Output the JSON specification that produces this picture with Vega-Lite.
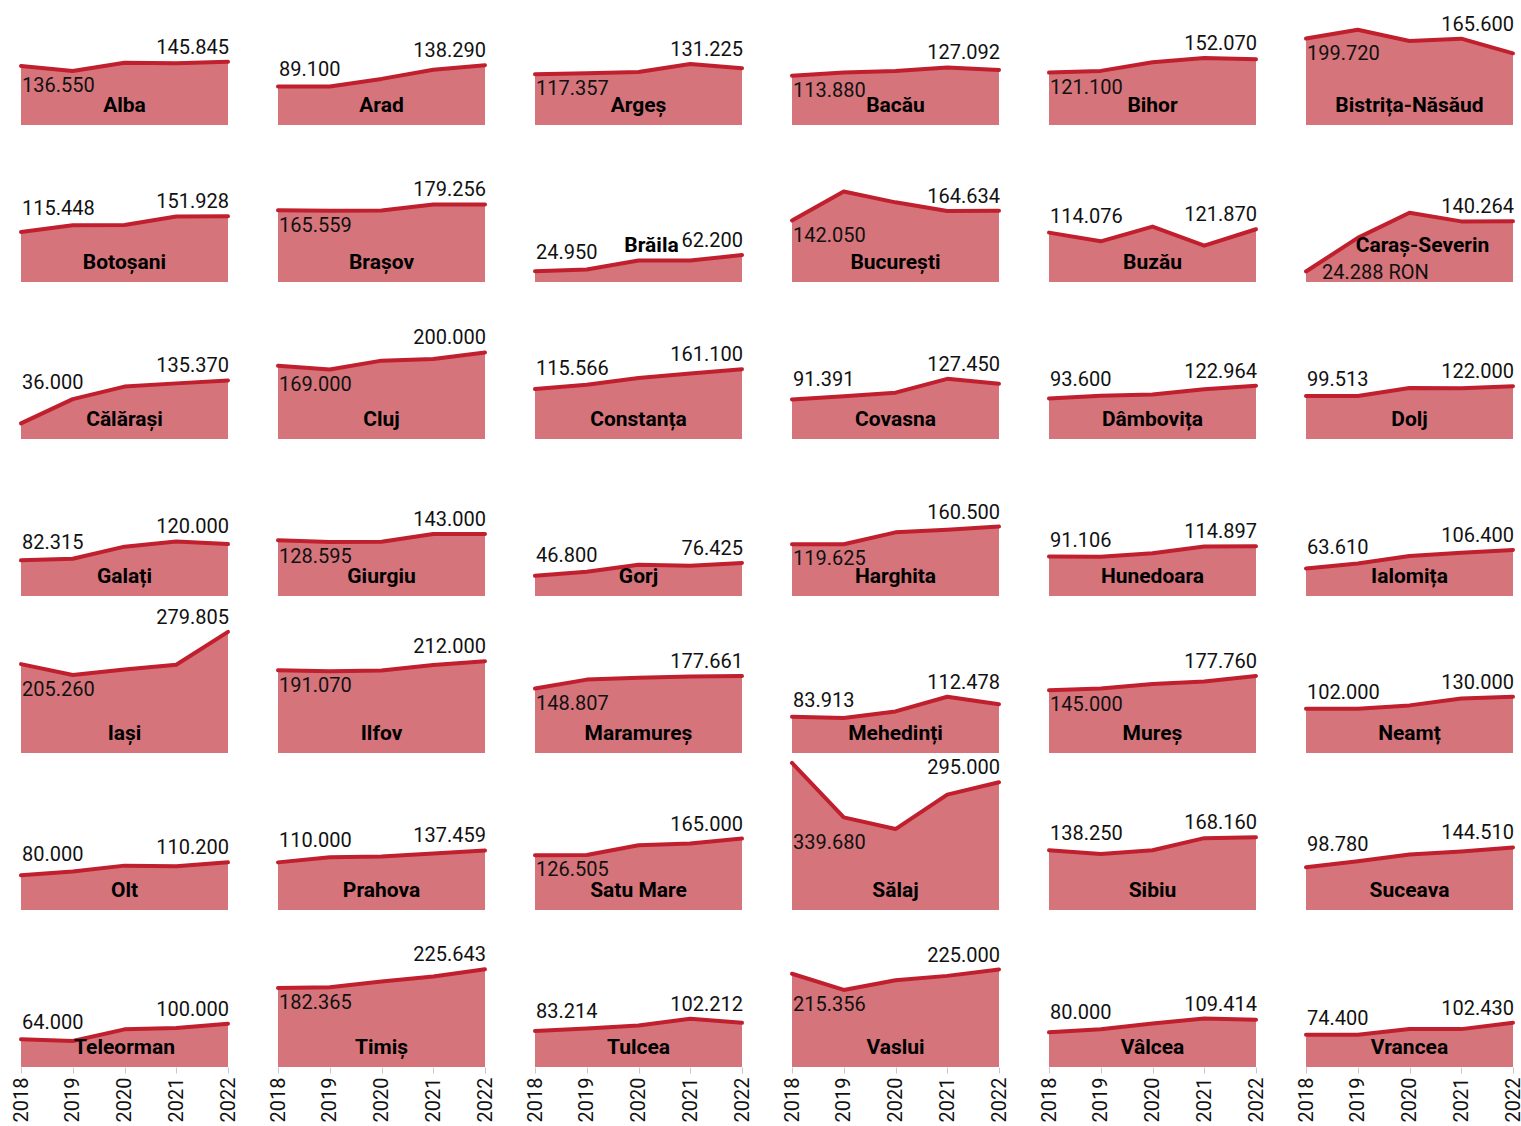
{
  "$schema": "https://vega.github.io/schema/vega-lite/v6.json",
  "padding": {"left": 11, "top": 14, "right": 0, "bottom": 0},
  "bounds": "flush",
  "data": {"values": [
    {"county":"Alba","year":2018,"value":136550},{"county":"Alba","year":2019,"value":124700},{"county":"Alba","year":2020,"value":144000},{"county":"Alba","year":2021,"value":142500},{"county":"Alba","year":2022,"value":145845},
    {"county":"Arad","year":2018,"value":89100},{"county":"Arad","year":2019,"value":89100},{"county":"Arad","year":2020,"value":106500},{"county":"Arad","year":2021,"value":127500},{"county":"Arad","year":2022,"value":138290},
    {"county":"Argeș","year":2018,"value":117357},{"county":"Argeș","year":2019,"value":119500},{"county":"Argeș","year":2020,"value":122500},{"county":"Argeș","year":2021,"value":141000},{"county":"Argeș","year":2022,"value":131225},
    {"county":"Bacău","year":2018,"value":113880},{"county":"Bacău","year":2019,"value":121000},{"county":"Bacău","year":2020,"value":125000},{"county":"Bacău","year":2021,"value":133000},{"county":"Bacău","year":2022,"value":127092},
    {"county":"Bihor","year":2018,"value":121100},{"county":"Bihor","year":2019,"value":125000},{"county":"Bihor","year":2020,"value":145000},{"county":"Bihor","year":2021,"value":154500},{"county":"Bihor","year":2022,"value":152070},
    {"county":"Bistrița-Năsăud","year":2018,"value":199720},{"county":"Bistrița-Năsăud","year":2019,"value":220000},{"county":"Bistrița-Năsăud","year":2020,"value":194000},{"county":"Bistrița-Năsăud","year":2021,"value":199500},{"county":"Bistrița-Năsăud","year":2022,"value":165600},
    {"county":"Botoșani","year":2018,"value":115448},{"county":"Botoșani","year":2019,"value":131000},{"county":"Botoșani","year":2020,"value":131500},{"county":"Botoșani","year":2021,"value":151500},{"county":"Botoșani","year":2022,"value":151928},
    {"county":"Brașov","year":2018,"value":165559},{"county":"Brașov","year":2019,"value":164500},{"county":"Brașov","year":2020,"value":165000},{"county":"Brașov","year":2021,"value":179000},{"county":"Brașov","year":2022,"value":179256},
    {"county":"Brăila","year":2018,"value":24950},{"county":"Brăila","year":2019,"value":29000},{"county":"Brăila","year":2020,"value":49500},{"county":"Brăila","year":2021,"value":49500},{"county":"Brăila","year":2022,"value":62200},
    {"county":"București","year":2018,"value":142050},{"county":"București","year":2019,"value":209000},{"county":"București","year":2020,"value":184000},{"county":"București","year":2021,"value":164000},{"county":"București","year":2022,"value":164634},
    {"county":"Buzău","year":2018,"value":114076},{"county":"Buzău","year":2019,"value":94000},{"county":"Buzău","year":2020,"value":128000},{"county":"Buzău","year":2021,"value":84000},{"county":"Buzău","year":2022,"value":121870},
    {"county":"Caraș-Severin","year":2018,"value":24288},{"county":"Caraș-Severin","year":2019,"value":102000},{"county":"Caraș-Severin","year":2020,"value":160000},{"county":"Caraș-Severin","year":2021,"value":140000},{"county":"Caraș-Severin","year":2022,"value":140264},
    {"county":"Călărași","year":2018,"value":36000},{"county":"Călărași","year":2019,"value":92000},{"county":"Călărași","year":2020,"value":121000},{"county":"Călărași","year":2021,"value":128500},{"county":"Călărași","year":2022,"value":135370},
    {"county":"Cluj","year":2018,"value":169000},{"county":"Cluj","year":2019,"value":160500},{"county":"Cluj","year":2020,"value":181000},{"county":"Cluj","year":2021,"value":185000},{"county":"Cluj","year":2022,"value":200000},
    {"county":"Constanța","year":2018,"value":115566},{"county":"Constanța","year":2019,"value":125500},{"county":"Constanța","year":2020,"value":141000},{"county":"Constanța","year":2021,"value":151500},{"county":"Constanța","year":2022,"value":161100},
    {"county":"Covasna","year":2018,"value":91391},{"county":"Covasna","year":2019,"value":99000},{"county":"Covasna","year":2020,"value":107000},{"county":"Covasna","year":2021,"value":139000},{"county":"Covasna","year":2022,"value":127450},
    {"county":"Dâmbovița","year":2018,"value":93600},{"county":"Dâmbovița","year":2019,"value":100000},{"county":"Dâmbovița","year":2020,"value":103000},{"county":"Dâmbovița","year":2021,"value":115000},{"county":"Dâmbovița","year":2022,"value":122964},
    {"county":"Dolj","year":2018,"value":99513},{"county":"Dolj","year":2019,"value":99500},{"county":"Dolj","year":2020,"value":118000},{"county":"Dolj","year":2021,"value":117000},{"county":"Dolj","year":2022,"value":122000},
    {"county":"Galați","year":2018,"value":82315},{"county":"Galați","year":2019,"value":86000},{"county":"Galați","year":2020,"value":114000},{"county":"Galați","year":2021,"value":126000},{"county":"Galați","year":2022,"value":120000},
    {"county":"Giurgiu","year":2018,"value":128595},{"county":"Giurgiu","year":2019,"value":125000},{"county":"Giurgiu","year":2020,"value":125500},{"county":"Giurgiu","year":2021,"value":143000},{"county":"Giurgiu","year":2022,"value":143000},
    {"county":"Gorj","year":2018,"value":46800},{"county":"Gorj","year":2019,"value":56000},{"county":"Gorj","year":2020,"value":72000},{"county":"Gorj","year":2021,"value":70000},{"county":"Gorj","year":2022,"value":76425},
    {"county":"Harghita","year":2018,"value":119625},{"county":"Harghita","year":2019,"value":119625},{"county":"Harghita","year":2020,"value":147000},{"county":"Harghita","year":2021,"value":153000},{"county":"Harghita","year":2022,"value":160500},
    {"county":"Hunedoara","year":2018,"value":91106},{"county":"Hunedoara","year":2019,"value":90500},{"county":"Hunedoara","year":2020,"value":99000},{"county":"Hunedoara","year":2021,"value":114500},{"county":"Hunedoara","year":2022,"value":114897},
    {"county":"Ialomița","year":2018,"value":63610},{"county":"Ialomița","year":2019,"value":75000},{"county":"Ialomița","year":2020,"value":92500},{"county":"Ialomița","year":2021,"value":100000},{"county":"Ialomița","year":2022,"value":106400},
    {"county":"Iași","year":2018,"value":205260},{"county":"Iași","year":2019,"value":180000},{"county":"Iași","year":2020,"value":193000},{"county":"Iași","year":2021,"value":204000},{"county":"Iași","year":2022,"value":279805},
    {"county":"Ilfov","year":2018,"value":191070},{"county":"Ilfov","year":2019,"value":189000},{"county":"Ilfov","year":2020,"value":190500},{"county":"Ilfov","year":2021,"value":203500},{"county":"Ilfov","year":2022,"value":212000},
    {"county":"Maramureș","year":2018,"value":148807},{"county":"Maramureș","year":2019,"value":169500},{"county":"Maramureș","year":2020,"value":174000},{"county":"Maramureș","year":2021,"value":176500},{"county":"Maramureș","year":2022,"value":177661},
    {"county":"Mehedinți","year":2018,"value":83913},{"county":"Mehedinți","year":2019,"value":81000},{"county":"Mehedinți","year":2020,"value":96000},{"county":"Mehedinți","year":2021,"value":130000},{"county":"Mehedinți","year":2022,"value":112478},
    {"county":"Mureș","year":2018,"value":145000},{"county":"Mureș","year":2019,"value":149000},{"county":"Mureș","year":2020,"value":159500},{"county":"Mureș","year":2021,"value":165000},{"county":"Mureș","year":2022,"value":177760},
    {"county":"Neamț","year":2018,"value":102000},{"county":"Neamț","year":2019,"value":102000},{"county":"Neamț","year":2020,"value":110000},{"county":"Neamț","year":2021,"value":126000},{"county":"Neamț","year":2022,"value":130000},
    {"county":"Olt","year":2018,"value":80000},{"county":"Olt","year":2019,"value":89000},{"county":"Olt","year":2020,"value":102500},{"county":"Olt","year":2021,"value":101000},{"county":"Olt","year":2022,"value":110200},
    {"county":"Prahova","year":2018,"value":110000},{"county":"Prahova","year":2019,"value":122000},{"county":"Prahova","year":2020,"value":123500},{"county":"Prahova","year":2021,"value":130500},{"county":"Prahova","year":2022,"value":137459},
    {"county":"Satu Mare","year":2018,"value":126505},{"county":"Satu Mare","year":2019,"value":127000},{"county":"Satu Mare","year":2020,"value":149500},{"county":"Satu Mare","year":2021,"value":153500},{"county":"Satu Mare","year":2022,"value":165000},
    {"county":"Sălaj","year":2018,"value":339680},{"county":"Sălaj","year":2019,"value":214000},{"county":"Sălaj","year":2020,"value":187000},{"county":"Sălaj","year":2021,"value":266500},{"county":"Sălaj","year":2022,"value":295000},
    {"county":"Sibiu","year":2018,"value":138250},{"county":"Sibiu","year":2019,"value":129500},{"county":"Sibiu","year":2020,"value":138000},{"county":"Sibiu","year":2021,"value":166000},{"county":"Sibiu","year":2022,"value":168160},
    {"county":"Suceava","year":2018,"value":98780},{"county":"Suceava","year":2019,"value":112500},{"county":"Suceava","year":2020,"value":128000},{"county":"Suceava","year":2021,"value":135000},{"county":"Suceava","year":2022,"value":144510},
    {"county":"Teleorman","year":2018,"value":64000},{"county":"Teleorman","year":2019,"value":60000},{"county":"Teleorman","year":2020,"value":87000},{"county":"Teleorman","year":2021,"value":90000},{"county":"Teleorman","year":2022,"value":100000},
    {"county":"Timiș","year":2018,"value":182365},{"county":"Timiș","year":2019,"value":184000},{"county":"Timiș","year":2020,"value":197500},{"county":"Timiș","year":2021,"value":209000},{"county":"Timiș","year":2022,"value":225643},
    {"county":"Tulcea","year":2018,"value":83214},{"county":"Tulcea","year":2019,"value":89000},{"county":"Tulcea","year":2020,"value":96000},{"county":"Tulcea","year":2021,"value":111500},{"county":"Tulcea","year":2022,"value":102212},
    {"county":"Vaslui","year":2018,"value":215356},{"county":"Vaslui","year":2019,"value":178000},{"county":"Vaslui","year":2020,"value":200500},{"county":"Vaslui","year":2021,"value":210500},{"county":"Vaslui","year":2022,"value":225000},
    {"county":"Vâlcea","year":2018,"value":80000},{"county":"Vâlcea","year":2019,"value":87000},{"county":"Vâlcea","year":2020,"value":100500},{"county":"Vâlcea","year":2021,"value":112000},{"county":"Vâlcea","year":2022,"value":109414},
    {"county":"Vrancea","year":2018,"value":74400},{"county":"Vrancea","year":2019,"value":74400},{"county":"Vrancea","year":2020,"value":88000},{"county":"Vrancea","year":2021,"value":87500},{"county":"Vrancea","year":2022,"value":102430}
  ]},
  "facet": {
    "field": "county", "type": "nominal", "title": null,
    "header": {"title": null, "labels": false, "labelExpr": "''", "labelFontSize": 0, "labelPadding": 0},
    "sort": ["Alba","Arad","Argeș","Bacău","Bihor","Bistrița-Năsăud","Botoșani","Brașov","Brăila","București","Buzău","Caraș-Severin","Călărași","Cluj","Constanța","Covasna","Dâmbovița","Dolj","Galați","Giurgiu","Gorj","Harghita","Hunedoara","Ialomița","Iași","Ilfov","Maramureș","Mehedinți","Mureș","Neamț","Olt","Prahova","Satu Mare","Sălaj","Sibiu","Suceava","Teleorman","Timiș","Tulcea","Vaslui","Vâlcea","Vrancea"]
  },
  "columns": 6,
  "spacing": {"row": 57, "column": 50},
  "spec": {
    "width": 207,
    "height": 100,
    "layer": [
      {
        "mark": {"type": "area", "color": "#d6747b", "opacity": 1},
        "encoding": {
          "x": {"field": "year", "type": "quantitative", "title": null, "scale": {"domain": [2018, 2022], "nice": false, "zero": false},
                "axis": {"values": [2018, 2019, 2020, 2021, 2022], "format": "d", "labelAngle": -90, "labelFontSize": 20, "labelFont": "Roboto", "labelColor": "#111", "domain": false, "grid": false, "ticks": true, "tickColor": "#c8c8c8", "tickSize": 6, "labelPadding": 4, "labelFlush": false, "labelOverlap": false, "title": null}},
          "y": {"field": "value", "type": "quantitative", "stack": null, "axis": null, "scale": {"domain": [0, 231000], "nice": false, "zero": true}}
        }
      },
      {
        "mark": {"type": "line", "color": "#c01f2d", "strokeWidth": 4, "strokeCap": "round", "strokeJoin": "round"},
        "encoding": {
          "x": {"field": "year", "type": "quantitative", "title": null, "scale": {"domain": [2018, 2022], "nice": false, "zero": false}},
          "y": {"field": "value", "type": "quantitative", "axis": null, "scale": {"domain": [0, 231000], "nice": false, "zero": true}}
        }
      },
      {
        "transform": [
          {"filter": "datum.year <= 2019"},
          {"aggregate": [{"op": "argmin", "field": "year", "as": "first"}, {"op": "max", "field": "value", "as": "hi"}, {"op": "min", "field": "value", "as": "lo"}], "groupby": ["county"]},
          {"filter": {"field": "county", "oneOf": ["Arad","Botoșani","Brăila","Buzău","Călărași","Constanța","Covasna","Dâmbovița","Dolj","Galați","Gorj","Hunedoara","Ialomița","Mehedinți","Neamț","Olt","Prahova","Sibiu","Suceava","Teleorman","Tulcea","Vâlcea","Vrancea"]}}
        ],
        "mark": {"type": "text", "align": "left", "baseline": "middle", "dx": 1, "dy": -16, "font": "Roboto", "fontSize": 20, "color": "#111"},
        "encoding": {
          "x": {"field": "first.year", "type": "quantitative", "title": null, "scale": {"domain": [2018, 2022], "nice": false, "zero": false}},
          "y": {"field": "hi", "type": "quantitative", "axis": null, "scale": {"domain": [0, 231000], "nice": false, "zero": true}},
          "text": {"field": "first.value", "type": "quantitative", "format": ",d"}
        }
      },
      {
        "transform": [
          {"filter": "datum.year <= 2019"},
          {"aggregate": [{"op": "argmin", "field": "year", "as": "first"}, {"op": "max", "field": "value", "as": "hi"}, {"op": "min", "field": "value", "as": "lo"}], "groupby": ["county"]},
          {"filter": {"field": "county", "oneOf": ["Alba","Argeș","Bacău","Bihor","Bistrița-Năsăud","Brașov","București","Cluj","Giurgiu","Harghita","Iași","Ilfov","Maramureș","Mureș","Satu Mare","Timiș","Vaslui"]}}
        ],
        "mark": {"type": "text", "align": "left", "baseline": "middle", "dx": 1, "dy": 15, "font": "Roboto", "fontSize": 20, "color": "#111"},
        "encoding": {
          "x": {"field": "first.year", "type": "quantitative", "title": null, "scale": {"domain": [2018, 2022], "nice": false, "zero": false}},
          "y": {"field": "lo", "type": "quantitative", "axis": null, "scale": {"domain": [0, 231000], "nice": false, "zero": true}},
          "text": {"field": "first.value", "type": "quantitative", "format": ",d"}
        }
      },
      {
        "transform": [
          {"filter": "datum.year <= 2019"},
          {"aggregate": [{"op": "argmin", "field": "year", "as": "first"}, {"op": "min", "field": "value", "as": "lo"}], "groupby": ["county"]},
          {"filter": {"field": "county", "equal": "Sălaj"}}
        ],
        "mark": {"type": "text", "align": "left", "baseline": "middle", "dx": 1, "dy": 26, "font": "Roboto", "fontSize": 20, "color": "#111"},
        "encoding": {
          "x": {"field": "first.year", "type": "quantitative", "title": null, "scale": {"domain": [2018, 2022], "nice": false, "zero": false}},
          "y": {"field": "lo", "type": "quantitative", "axis": null, "scale": {"domain": [0, 231000], "nice": false, "zero": true}},
          "text": {"field": "first.value", "type": "quantitative", "format": ",d"}
        }
      },
      {
        "transform": [
          {"filter": "datum.year <= 2019"},
          {"aggregate": [{"op": "argmin", "field": "year", "as": "first"}], "groupby": ["county"]},
          {"filter": {"field": "county", "equal": "Caraș-Severin"}}
        ],
        "mark": {"type": "text", "align": "left", "baseline": "middle", "dx": 16, "dy": -9, "font": "Roboto", "fontSize": 20, "color": "#111"},
        "encoding": {
          "x": {"field": "first.year", "type": "quantitative", "title": null, "scale": {"domain": [2018, 2022], "nice": false, "zero": false}},
          "y": {"datum": 0, "type": "quantitative", "axis": null, "scale": {"domain": [0, 231000], "nice": false, "zero": true}},
          "text": {"field": "first.value", "type": "quantitative", "format": "$,d"}
        }
      },
      {
        "transform": [
          {"filter": "datum.year >= 2021"},
          {"aggregate": [{"op": "argmax", "field": "year", "as": "last"}, {"op": "max", "field": "value", "as": "hi"}], "groupby": ["county"]}
        ],
        "mark": {"type": "text", "align": "right", "baseline": "middle", "dx": 1, "dy": -14, "font": "Roboto", "fontSize": 20, "color": "#111"},
        "encoding": {
          "x": {"field": "last.year", "type": "quantitative", "title": null, "scale": {"domain": [2018, 2022], "nice": false, "zero": false}},
          "y": {"field": "hi", "type": "quantitative", "axis": null, "scale": {"domain": [0, 231000], "nice": false, "zero": true}},
          "text": {"field": "last.value", "type": "quantitative", "format": ",d"}
        }
      },
      {
        "transform": [
          {"filter": "datum.year == 2020"},
          {"filter": {"not": {"field": "county", "oneOf": ["Brăila", "Caraș-Severin"]}}}
        ],
        "mark": {"type": "text", "align": "center", "baseline": "middle", "dy": -19, "font": "Roboto", "fontSize": 21, "fontWeight": "bold", "color": "#000"},
        "encoding": {
          "x": {"field": "year", "type": "quantitative", "title": null, "scale": {"domain": [2018, 2022], "nice": false, "zero": false}},
          "y": {"datum": 0, "type": "quantitative", "axis": null, "scale": {"domain": [0, 231000], "nice": false, "zero": true}},
          "text": {"field": "county", "type": "nominal"}
        }
      },
      {
        "transform": [
          {"filter": "datum.year == 2020"},
          {"filter": {"field": "county", "oneOf": ["Brăila", "Caraș-Severin"]}}
        ],
        "mark": {"type": "text", "align": "center", "baseline": "middle", "dx": 13, "dy": -36, "font": "Roboto", "fontSize": 21, "fontWeight": "bold", "color": "#000"},
        "encoding": {
          "x": {"field": "year", "type": "quantitative", "title": null, "scale": {"domain": [2018, 2022], "nice": false, "zero": false}},
          "y": {"datum": 0, "type": "quantitative", "axis": null, "scale": {"domain": [0, 231000], "nice": false, "zero": true}},
          "text": {"field": "county", "type": "nominal"}
        }
      }
    ]
  },
  "config": {
    "view": {"stroke": null},
    "font": "Roboto",
    "headerFacet": {"labels": false, "title": null},
    "locale": {"number": {"decimal": ",", "thousands": ".", "grouping": [3], "currency": ["", " RON"]}}
  }
}
